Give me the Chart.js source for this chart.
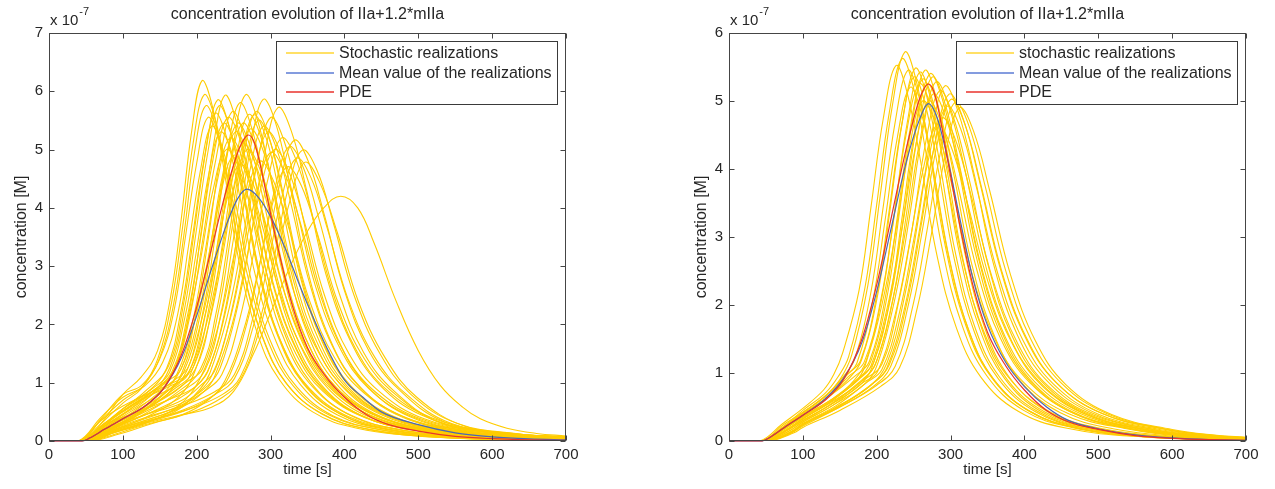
<!DOCTYPE html>
<html>
<head>
<meta charset="utf-8">
<title>concentration evolution of IIa+1.2*mIIa</title>
<script src="https://cdn.jsdelivr.net/npm/chart.js@4.4.1/dist/chart.umd.min.js"></script>
<style>
  body { margin: 0; background: #fff; width: 1275px; height: 489px; overflow: hidden; position: relative; }
  .panel { position: absolute; top: 0; height: 489px; }
</style>
</head>
<body>
<div class="panel" style="left:0;width:637px"><canvas id="left" width="637" height="489"></canvas></div>
<div class="panel" style="left:637px;width:638px"><canvas id="right" width="638" height="489"></canvas></div>
<script>
// all concentrations are in units of 1e-7 M, times in seconds: [t, c]
const timeTicks = [0, 100, 200, 300, 400, 500, 600, 700];

const pde = [[0,0],[45,0],[55,0.05],[75,0.2],[100,0.38],[130,0.6],[155,0.9],[180,1.5],[200,2.3],[220,3.3],[240,4.3],[257,5.0],[264,5.18],[270,5.25],[277,5.15],[284,4.85],[295,4.2],[312,3.2],[330,2.3],[350,1.6],[375,1.1],[400,0.75],[430,0.45],[460,0.28],[500,0.17],[550,0.08],[600,0.04],[650,0.02],[700,0.01]];

const meanLeft = [[0,0],[45,0],[55,0.05],[75,0.2],[100,0.38],[130,0.6],[155,0.9],[180,1.45],[200,2.15],[220,2.95],[240,3.7],[255,4.15],[268,4.32],[282,4.2],[300,3.85],[320,3.3],[340,2.65],[360,2.05],[380,1.5],[400,1.05],[425,0.75],[450,0.5],[500,0.28],[550,0.14],[600,0.07],[650,0.035],[700,0.02]];

const meanRight = [[0,0],[45,0],[55,0.05],[75,0.2],[100,0.38],[130,0.62],[155,0.92],[180,1.45],[200,2.2],[220,3.15],[240,4.1],[257,4.7],[270,4.96],[282,4.75],[297,4.1],[313,3.25],[330,2.4],[350,1.7],[375,1.15],[400,0.8],[430,0.5],[460,0.3],[500,0.18],[550,0.09],[600,0.045],[650,0.02],[700,0.01]];

const runsLeft = [
  [[0,0],[40,0],[70,0.3],[100,0.8],[125,1.1],[147,1.55],[165,2.5],[179,3.8],[193,5.3],[207,6.18],[221,5.75],[237,4.65],[257,3.1],[282,1.85],[312,1.05],[357,0.5],[417,0.22],[520,0.07],[700,0.01]],
  [[0,0],[45,0],[75,0.35],[100,0.65],[125,0.9],[147,1.4],[166,2.38],[181,3.68],[195,5.1],[210,5.94],[225,5.52],[242,4.46],[262,2.97],[289,1.78],[320,1.01],[368,0.48],[430,0.21],[530,0.07],[700,0.01]],
  [[0,0],[42,0],[70,0.2],[100,0.55],[130,0.8],[159,1.24],[179,2.25],[194,3.48],[210,4.83],[225,5.62],[240,5.23],[258,4.22],[280,2.81],[308,1.69],[341,0.96],[390,0.45],[456,0.2],[560,0.06],[700,0.015]],
  [[0,0],[45,0],[75,0.25],[100,0.45],[135,0.75],[164,1.27],[184,2.3],[199,3.57],[215,4.95],[230,5.75],[245,5.35],[263,4.31],[285,2.88],[313,1.73],[346,0.98],[395,0.46],[461,0.2],[560,0.065],[700,0.015]],
  [[0,0],[48,0],[80,0.3],[110,0.55],[145,0.85],[172,1.3],[192,2.37],[207,3.68],[223,5.1],[238,5.93],[253,5.51],[271,4.45],[293,2.97],[321,1.78],[354,1.01],[403,0.47],[469,0.21],[570,0.065],[700,0.015]],
  [[0,0],[50,0],[80,0.2],[110,0.4],[140,0.7],[170,1.22],[192,2.22],[208,3.44],[225,4.77],[242,5.55],[259,5.16],[278,4.16],[302,2.78],[332,1.67],[368,0.94],[422,0.44],[494,0.19],[600,0.055],[700,0.02]],
  [[0,0],[44,0],[75,0.3],[110,0.6],[150,0.95],[179,1.24],[200,2.26],[216,3.5],[232,4.86],[248,5.65],[264,5.25],[283,4.24],[306,2.83],[334,1.7],[369,0.96],[421,0.45],[490,0.2],[600,0.05],[700,0.018]],
  [[0,0],[52,0],[85,0.2],[120,0.45],[160,0.85],[183,1.2],[205,2.18],[221,3.38],[238,4.69],[255,5.45],[272,5.07],[291,4.09],[315,2.73],[345,1.64],[381,0.93],[435,0.44],[507,0.19],[610,0.05],[700,0.02]],
  [[0,0],[46,0],[80,0.25],[120,0.55],[165,1.0],[189,1.28],[210,2.32],[226,3.6],[242,4.99],[258,5.8],[274,5.39],[293,4.35],[316,2.9],[344,1.74],[379,0.99],[431,0.46],[500,0.2],[600,0.055],[700,0.018]],
  [[0,0],[50,0],[85,0.3],[125,0.55],[170,0.95],[197,1.31],[218,2.38],[234,3.68],[250,5.11],[266,5.94],[282,5.52],[301,4.46],[324,2.97],[352,1.78],[387,1.01],[439,0.48],[508,0.21],[610,0.06],[700,0.02]],
  [[0,0],[55,0],[90,0.2],[130,0.4],[175,0.75],[197,1.18],[219,2.14],[237,3.32],[254,4.6],[272,5.35],[290,4.98],[310,4.01],[335,2.68],[366,1.61],[403,0.91],[460,0.43],[535,0.19],[630,0.06],[700,0.03]],
  [[0,0],[47,0],[80,0.2],[120,0.4],[170,0.8],[205,1.23],[227,2.24],[243,3.47],[260,4.81],[277,5.59],[294,5.2],[313,4.19],[337,2.8],[367,1.68],[403,0.95],[457,0.45],[529,0.2],[630,0.06],[700,0.025]],
  [[0,0],[53,0],[90,0.25],[130,0.5],[180,0.85],[211,1.21],[233,2.2],[249,3.41],[266,4.73],[283,5.5],[300,5.12],[319,4.13],[343,2.75],[373,1.65],[409,0.94],[463,0.44],[535,0.19],[640,0.055],[700,0.025]],
  [[0,0],[45,0],[80,0.3],[120,0.5],[170,0.75],[200,0.95],[218,1.29],[240,2.34],[256,3.63],[273,5.04],[290,5.86],[307,5.45],[326,4.4],[350,2.93],[380,1.76],[416,1.0],[470,0.47],[542,0.2],[640,0.06],[700,0.03]],
  [[0,0],[50,0],[90,0.2],[130,0.35],[180,0.6],[205,0.9],[218,1.17],[241,2.12],[260,3.29],[278,4.56],[296,5.3],[314,4.93],[335,3.98],[361,2.65],[394,1.59],[433,0.9],[491,0.42],[569,0.17],[650,0.07],[700,0.04]],
  [[0,0],[48,0],[85,0.25],[130,0.45],[180,0.65],[215,0.95],[232,1.26],[255,2.29],[274,3.55],[292,4.92],[310,5.72],[328,5.32],[349,4.29],[375,2.86],[408,1.72],[447,0.97],[505,0.44],[583,0.17],[650,0.08],[700,0.045]],
  [[0,0],[42,0],[70,0.25],[100,0.5],[140,0.8],[165,0.95],[187,1.12],[209,2.04],[227,3.16],[244,4.39],[262,5.1],[280,4.74],[300,3.83],[325,2.55],[356,1.53],[393,0.87],[450,0.41],[525,0.18],[620,0.055],[700,0.025]],
  [[0,0],[40,0],[70,0.35],[100,0.6],[140,0.85],[172,1.08],[195,1.96],[214,3.04],[232,4.21],[250,4.9],[268,4.56],[289,3.68],[315,2.45],[348,1.47],[387,0.83],[445,0.39],[523,0.17],[620,0.05],[700,0.02]],
  [[0,0],[55,0],[90,0.15],[130,0.3],[175,0.6],[204,1.06],[228,1.92],[247,2.98],[266,4.13],[285,4.8],[304,4.46],[326,3.6],[353,2.4],[386,1.44],[427,0.82],[488,0.36],[569,0.15],[650,0.06],[700,0.035]],
  [[0,0],[50,0],[85,0.15],[125,0.3],[170,0.5],[195,0.75],[219,1.09],[243,1.98],[262,3.07],[281,4.26],[300,4.95],[319,4.6],[341,3.71],[368,2.48],[401,1.49],[442,0.84],[503,0.38],[584,0.16],[650,0.07],[700,0.04]],
  [[0,0],[55,0],[90,0.12],[130,0.28],[180,0.45],[215,0.7],[238,1.03],[263,1.88],[283,2.91],[302,4.04],[322,4.7],[342,4.37],[364,3.53],[392,2.35],[427,1.41],[469,0.8],[532,0.3],[616,0.12],[700,0.05]],
  [[0,0],[47,0],[85,0.2],[130,0.4],[180,0.6],[225,0.85],[251,1.14],[275,2.06],[294,3.2],[313,4.44],[332,5.16],[351,4.8],[373,3.87],[400,2.58],[433,1.55],[474,0.88],[535,0.33],[616,0.14],[700,0.06]],
  [[0,0],[52,0],[90,0.18],[135,0.35],[190,0.55],[235,0.8],[259,1.1],[284,2.0],[304,3.09],[323,4.29],[343,4.99],[363,4.64],[385,3.74],[413,2.5],[448,1.5],[490,0.8],[553,0.3],[637,0.12],[700,0.07]],
  [[0,0],[58,0],[95,0.12],[140,0.3],[195,0.5],[235,0.75],[259,1.05],[285,1.91],[305,2.96],[326,4.11],[346,4.78],[366,4.45],[390,3.59],[419,2.39],[455,1.43],[498,0.75],[564,0.25],[651,0.1],[700,0.06]],
  [[0,0],[55,0],[90,0.15],[130,0.3],[180,0.45],[220,0.58],[250,0.85],[277,1.5],[300,2.2],[325,2.95],[350,3.6],[372,4.0],[395,4.2],[418,4.0],[440,3.4],[470,2.4],[500,1.55],[530,0.95],[560,0.58],[584,0.38],[620,0.22],[660,0.13],[700,0.086]],
  [[0,0],[44,0],[75,0.3],[105,0.6],[140,0.9],[163,1.17],[184,2.12],[200,3.29],[216,4.56],[232,5.3],[248,4.93],[267,3.98],[290,2.65],[318,1.59],[353,0.9],[405,0.42],[475,0.19],[580,0.05],[700,0.012]],
  [[0,0],[48,0],[80,0.22],[120,0.45],[165,0.85],[198,1.23],[220,2.24],[236,3.47],[253,4.82],[270,5.6],[287,5.21],[306,4.2],[330,2.8],[360,1.68],[396,0.95],[450,0.45],[522,0.2],[620,0.06],[700,0.025]],
  [[0,0],[50,0],[88,0.2],[130,0.38],[180,0.62],[210,0.85],[234,1.14],[258,2.08],[277,3.22],[296,4.47],[315,5.2],[334,4.84],[356,3.9],[383,2.6],[416,1.56],[457,0.88],[518,0.4],[599,0.16],[700,0.06]],
  [[0,0],[45,0],[75,0.25],[105,0.5],[140,0.85],[165,1.1],[187,2.0],[205,3.1],[222,4.3],[240,5.0],[258,4.65],[278,3.75],[303,2.5],[334,1.5],[371,0.85],[428,0.4],[503,0.18],[600,0.05],[700,0.02]],
  [[0,0],[40,0],[70,0.4],[100,0.75],[130,0.95],[154,1.35],[174,2.16],[189,3.35],[205,4.64],[220,5.4],[235,5.02],[253,4.05],[275,2.7],[303,1.62],[336,0.92],[385,0.43],[451,0.19],[550,0.055],[700,0.012]],
  [[0,0],[50,0],[88,0.15],[130,0.32],[185,0.55],[225,0.8],[251,1.07],[276,1.94],[296,3.0],[315,4.17],[335,4.85],[355,4.51],[377,3.64],[405,2.43],[440,1.46],[482,0.82],[545,0.3],[629,0.13],[700,0.07]],
  [[0,0],[43,0],[75,0.3],[110,0.6],[160,0.95],[190,1.2],[212,2.18],[228,3.38],[245,4.69],[262,5.45],[279,5.07],[298,4.09],[322,2.73],[352,1.64],[388,0.93],[442,0.44],[514,0.19],[620,0.05],[700,0.02]],
  [[0,0],[52,0],[88,0.22],[130,0.45],[180,0.7],[205,0.95],[225,1.22],[247,2.22],[265,3.44],[282,4.77],[300,5.55],[318,5.16],[338,4.16],[363,2.78],[394,1.67],[431,0.94],[488,0.42],[563,0.18],[650,0.07],[700,0.04]],
  [[0,0],[50,0],[80,0.2],[110,0.4],[145,0.7],[173,1.14],[195,2.08],[211,3.22],[228,4.47],[245,5.2],[262,4.84],[281,3.9],[305,2.6],[335,1.56],[371,0.88],[425,0.42],[497,0.18],[600,0.05],[700,0.02]],
  [[0,0],[42,0],[72,0.4],[100,0.8],[125,0.95],[149,1.38],[169,2.22],[184,3.44],[200,4.77],[215,5.55],[230,5.16],[248,4.16],[270,2.78],[298,1.67],[331,0.94],[380,0.44],[446,0.2],[550,0.05],[700,0.012]],
  [[0,0],[46,0],[76,0.3],[100,0.55],[130,0.85],[162,1.29],[182,2.34],[197,3.63],[213,5.03],[228,5.85],[243,5.44],[261,4.39],[283,2.93],[311,1.76],[344,0.99],[393,0.47],[459,0.2],[560,0.06],[700,0.015]],
  [[0,0],[50,0],[85,0.2],[120,0.45],[160,0.8],[180,1.17],[202,2.12],[218,3.29],[235,4.56],[252,5.3],[269,4.93],[288,3.98],[312,2.65],[342,1.59],[378,0.9],[432,0.42],[504,0.19],[610,0.05],[700,0.02]],
  [[0,0],[45,0],[75,0.22],[110,0.42],[150,0.7],[175,0.9],[190,1.1],[213,2.0],[232,3.1],[250,4.3],[268,5.0],[286,4.65],[307,3.75],[333,2.5],[366,1.5],[405,0.85],[463,0.4],[541,0.17],[630,0.06],[700,0.03]],
  [[0,0],[48,0],[82,0.25],[120,0.48],[165,0.8],[185,1.0],[208,1.24],[230,2.26],[246,3.5],[263,4.86],[280,5.65],[297,5.25],[316,4.24],[340,2.83],[370,1.7],[406,0.96],[460,0.45],[532,0.2],[630,0.06],[700,0.025]],
  [[0,0],[44,0],[75,0.28],[105,0.55],[140,0.85],[167,1.2],[188,2.18],[204,3.38],[220,4.69],[236,5.45],[252,5.07],[271,4.09],[294,2.73],[322,1.64],[357,0.93],[409,0.44],[478,0.19],[580,0.055],[700,0.015]],
  [[0,0],[50,0],[88,0.18],[130,0.35],[180,0.58],[210,0.85],[224,1.1],[248,2.0],[267,3.1],[286,4.3],[305,5.0],[324,4.65],[346,3.75],[373,2.5],[406,1.5],[447,0.85],[508,0.38],[589,0.16],[660,0.07],[700,0.04]],
  [[0,0],[46,0],[78,0.25],[110,0.5],[150,0.8],[180,1.05],[203,1.9],[222,2.95],[240,4.09],[258,4.75],[276,4.42],[297,3.56],[323,2.38],[356,1.43],[395,0.81],[453,0.38],[531,0.17],[620,0.05],[700,0.02]],
  [[0,0],[42,0],[70,0.35],[100,0.7],[128,0.95],[149,1.4],[168,2.3],[183,3.57],[197,4.95],[212,5.75],[227,5.35],[244,4.31],[264,2.88],[291,1.73],[322,0.98],[370,0.46],[432,0.2],[530,0.06],[700,0.01]],
  [[0,0],[52,0],[90,0.16],[135,0.33],[190,0.55],[225,0.8],[244,1.11],[268,2.02],[287,3.13],[306,4.34],[325,5.05],[344,4.7],[366,3.79],[393,2.53],[426,1.52],[467,0.86],[528,0.33],[609,0.14],[700,0.06]],
  [[0,0],[50,0],[85,0.22],[125,0.42],[175,0.72],[200,0.95],[215,1.19],[238,2.16],[255,3.35],[272,4.64],[290,5.4],[308,5.02],[328,4.05],[353,2.7],[384,1.62],[421,0.92],[478,0.43],[553,0.19],[640,0.06],[700,0.03]]
];

const runsRight = [
  [[0,0],[45,0],[75,0.2],[100,0.42],[130,0.65],[150,0.9],[166,1.26],[188,2.29],[204,3.55],[221,4.92],[238,5.72],[253,5.32],[271,4.29],[293,2.86],[320,1.72],[353,0.97],[403,0.46],[468,0.2],[560,0.07],[700,0.015]],
  [[0,0],[45,0],[75,0.22],[100,0.45],[130,0.7],[148,0.95],[162,1.24],[184,2.25],[200,3.48],[217,4.83],[234,5.62],[249,5.23],[267,4.22],[289,2.81],[316,1.69],[349,0.96],[399,0.45],[464,0.2],[560,0.065],[700,0.015]],
  [[0,0],[42,0],[72,0.25],[100,0.48],[128,0.75],[142,0.98],[154,1.3],[176,2.21],[192,3.42],[209,4.75],[226,5.52],[241,5.13],[259,4.14],[281,2.76],[308,1.66],[341,0.94],[391,0.44],[456,0.19],[560,0.06],[700,0.012]],
  [[0,0],[46,0],[78,0.2],[100,0.38],[135,0.65],[165,0.95],[180,1.21],[202,2.19],[218,3.4],[235,4.71],[252,5.48],[267,5.1],[285,4.11],[307,2.74],[334,1.64],[367,0.93],[417,0.44],[482,0.19],[580,0.06],[700,0.015]],
  [[0,0],[48,0],[80,0.18],[100,0.33],[140,0.6],[170,0.9],[186,1.19],[208,2.17],[224,3.36],[241,4.66],[258,5.42],[273,5.04],[291,4.07],[313,2.71],[340,1.63],[373,0.92],[423,0.43],[488,0.19],[580,0.065],[700,0.018]],
  [[0,0],[47,0],[78,0.2],[100,0.36],[140,0.62],[175,0.9],[193,1.2],[215,2.18],[231,3.38],[248,4.69],[265,5.45],[280,5.07],[298,4.09],[320,2.73],[347,1.64],[380,0.93],[430,0.44],[495,0.19],[590,0.065],[700,0.02]],
  [[0,0],[50,0],[80,0.17],[100,0.3],[140,0.55],[180,0.85],[197,1.19],[220,2.16],[237,3.35],[254,4.64],[272,5.4],[289,5.02],[310,4.05],[335,2.7],[366,1.62],[404,0.92],[462,0.43],[537,0.19],[620,0.07],[700,0.025]],
  [[0,0],[44,0],[75,0.22],[100,0.4],[135,0.65],[170,0.95],[190,1.17],[212,2.13],[228,3.3],[245,4.58],[262,5.32],[277,4.95],[295,3.99],[317,2.66],[344,1.6],[377,0.9],[427,0.43],[492,0.19],[590,0.06],[700,0.02]],
  [[0,0],[46,0],[78,0.2],[100,0.36],[140,0.62],[175,0.92],[196,1.16],[218,2.1],[234,3.26],[251,4.52],[268,5.25],[284,4.88],[304,3.94],[328,2.63],[358,1.58],[394,0.89],[448,0.42],[520,0.18],[610,0.065],[700,0.025]],
  [[0,0],[50,0],[82,0.15],[100,0.28],[140,0.52],[185,0.85],[202,1.16],[225,2.11],[244,3.27],[262,4.54],[280,5.28],[298,4.91],[320,3.96],[346,2.64],[378,1.58],[418,0.9],[478,0.42],[556,0.18],[630,0.07],[700,0.03]],
  [[0,0],[52,0],[85,0.14],[100,0.25],[145,0.5],[190,0.8],[214,1.15],[237,2.09],[256,3.24],[274,4.49],[292,5.22],[310,4.85],[332,3.92],[358,2.61],[390,1.57],[430,0.89],[490,0.42],[568,0.18],[640,0.08],[700,0.04]],
  [[0,0],[54,0],[85,0.12],[100,0.22],[150,0.5],[195,0.8],[219,1.1],[243,2.01],[262,3.11],[281,4.32],[300,5.02],[319,4.67],[341,3.77],[369,2.51],[403,1.51],[444,0.85],[506,0.4],[588,0.18],[650,0.08],[700,0.045]],
  [[0,0],[52,0],[85,0.13],[100,0.24],[150,0.5],[200,0.82],[225,1.1],[249,1.99],[268,3.09],[287,4.28],[306,4.98],[325,4.63],[347,3.74],[375,2.49],[409,1.49],[450,0.85],[512,0.4],[594,0.17],[660,0.08],[700,0.05]],
  [[0,0],[55,0],[88,0.12],[100,0.2],[150,0.45],[205,0.8],[231,1.08],[255,1.96],[274,3.04],[293,4.21],[312,4.9],[331,4.56],[353,3.68],[381,2.45],[415,1.47],[456,0.83],[518,0.39],[600,0.17],[660,0.085],[700,0.055]],
  [[0,0],[48,0],[80,0.17],[100,0.3],[140,0.55],[180,0.88],[207,1.13],[230,2.06],[249,3.19],[267,4.43],[285,5.15],[303,4.79],[325,3.86],[351,2.58],[383,1.55],[423,0.88],[483,0.41],[561,0.18],[640,0.07],[700,0.035]],
  [[0,0],[44,0],[75,0.25],[100,0.42],[135,0.7],[160,0.98],[178,1.18],[200,2.14],[216,3.32],[233,4.6],[250,5.35],[265,4.98],[283,4.01],[305,2.68],[332,1.61],[365,0.91],[415,0.43],[480,0.19],[580,0.06],[700,0.015]],
  [[0,0],[50,0],[80,0.16],[100,0.3],[140,0.56],[180,0.9],[198,1.12],[221,2.04],[240,3.16],[258,4.39],[276,5.1],[294,4.74],[316,3.83],[342,2.55],[374,1.53],[414,0.87],[474,0.41],[552,0.18],[630,0.07],[700,0.03]],
  [[0,0],[52,0],[84,0.14],[100,0.26],[145,0.52],[185,0.85],[207,1.05],[231,1.9],[250,2.95],[269,4.09],[288,4.75],[307,4.42],[329,3.56],[357,2.38],[391,1.43],[432,0.81],[494,0.38],[576,0.17],[650,0.07],[700,0.04]],
  [[0,0],[46,0],[77,0.2],[100,0.38],[135,0.65],[158,0.95],[173,1.14],[195,2.08],[211,3.22],[228,4.47],[245,5.2],[260,4.84],[278,3.9],[300,2.6],[327,1.56],[360,0.88],[410,0.42],[475,0.18],[570,0.06],[700,0.015]],
  [[0,0],[53,0],[85,0.13],[100,0.24],[150,0.52],[195,0.85],[214,1.08],[238,1.97],[257,3.05],[276,4.23],[295,4.92],[314,4.58],[336,3.69],[364,2.46],[398,1.48],[439,0.84],[501,0.39],[583,0.17],[650,0.075],[700,0.045]],
  [[0,0],[48,0],[80,0.18],[100,0.32],[140,0.6],[175,0.9],[192,1.1],[215,2.0],[234,3.1],[252,4.3],[270,5.0],[288,4.65],[310,3.75],[336,2.5],[368,1.5],[408,0.85],[468,0.4],[546,0.18],[630,0.065],[700,0.028]],
  [[0,0],[45,0],[76,0.21],[100,0.4],[135,0.66],[162,0.95],[183,1.16],[206,2.1],[223,3.26],[240,4.52],[258,5.25],[274,4.88],[293,3.94],[317,2.63],[346,1.58],[382,0.89],[436,0.42],[506,0.18],[600,0.06],[700,0.02]],
  [[0,0],[50,0],[82,0.15],[100,0.28],[140,0.52],[180,0.85],[201,1.02],[225,1.86],[244,2.88],[263,4.0],[282,4.65],[301,4.32],[323,3.49],[351,2.33],[385,1.4],[426,0.79],[488,0.37],[570,0.16],[650,0.06],[700,0.035]],
  [[0,0],[45,0],[76,0.22],[100,0.42],[132,0.68],[155,0.95],[170,1.2],[192,2.18],[208,3.38],[225,4.69],[242,5.45],[257,5.07],[275,4.09],[297,2.73],[324,1.64],[357,0.93],[407,0.44],[472,0.19],[570,0.06],[700,0.015]],
  [[0,0],[48,0],[80,0.18],[100,0.33],[140,0.58],[180,0.88],[200,1.18],[223,2.14],[240,3.32],[257,4.6],[275,5.35],[292,4.98],[313,4.01],[338,2.68],[369,1.61],[407,0.91],[465,0.43],[540,0.19],[620,0.07],[700,0.028]],
  [[0,0],[52,0],[85,0.13],[100,0.24],[148,0.5],[192,0.82],[217,1.12],[241,2.04],[260,3.16],[279,4.39],[298,5.1],[317,4.74],[339,3.83],[367,2.55],[401,1.53],[442,0.87],[504,0.41],[586,0.18],[650,0.08],[700,0.045]],
  [[0,0],[47,0],[78,0.19],[100,0.35],[140,0.6],[172,0.88],[184,1.1],[207,2.0],[226,3.1],[244,4.3],[262,5.0],[280,4.65],[302,3.75],[328,2.5],[360,1.5],[400,0.85],[460,0.4],[538,0.18],[620,0.06],[700,0.025]]
];

const titleText = 'concentration evolution of IIa+1.2*mIIa';
const textColor = '#262626';
const runColor = 'rgb(255, 204, 0)';
const meanColor = '#4a67b5';
const pdeColor = '#e8322c';

Chart.defaults.font.family = '"Liberation Sans", Arial, Helvetica, sans-serif';
Chart.defaults.color = textColor;

const toPoints = pairs => pairs.map(([x, y]) => ({ x, y }));

// MATLAB style box with inward ticks on all four sides plus the x 10^-7 multiplier
const axesBox = {
  id: 'axesBox',
  afterDatasetsDraw(chart) {
    const { ctx, chartArea: a, scales: { x, y } } = chart;
    const L = Math.round(a.left) + 0.5, R = Math.round(a.right) - 0.5;
    const T = Math.round(a.top) + 0.5, B = Math.round(a.bottom) - 0.5;
    ctx.save();
    ctx.strokeStyle = '#454545';
    ctx.lineWidth = 1;
    ctx.beginPath();
    x.ticks.forEach(t => {
      const px = Math.round(x.getPixelForValue(t.value)) + 0.5;
      ctx.moveTo(px, B); ctx.lineTo(px, B - 5);
      ctx.moveTo(px, T); ctx.lineTo(px, T + 5);
    });
    y.ticks.forEach(t => {
      const py = Math.round(y.getPixelForValue(t.value)) + 0.5;
      ctx.moveTo(L, py); ctx.lineTo(L + 5, py);
      ctx.moveTo(R, py); ctx.lineTo(R - 5, py);
    });
    ctx.stroke();
    ctx.strokeRect(L, T, R - L, B - T);

    ctx.fillStyle = textColor;
    ctx.textBaseline = 'middle';
    ctx.textAlign = 'left';
    ctx.font = '15px "Liberation Sans", Arial, sans-serif';
    const base = 'x 10';
    ctx.fillText(base, a.left + 1, 21);
    const w = ctx.measureText(base).width;
    ctx.font = '11px "Liberation Sans", Arial, sans-serif';
    ctx.fillText('-7', a.left + 2 + w, 12);
    ctx.restore();
  }
};

// boxed legend in the upper right corner of the axes
const boxLegend = {
  id: 'boxLegend',
  afterDraw(chart) {
    const { ctx, chartArea: a } = chart;
    const seen = [];
    chart.data.datasets.forEach(ds => {
      if (!seen.find(e => e.text === ds.label)) seen.push({ text: ds.label, color: ds.legendColor || ds.borderColor, rank: ds.legendRank });
    });
    seen.sort((p, q) => p.rank - q.rank);
    ctx.save();
    ctx.font = '16px "Liberation Sans", Arial, sans-serif';
    const textW = Math.max(...seen.map(e => ctx.measureText(e.text).width));
    const w = Math.round(63 + textW + 5), h = 63;
    const left = Math.round(a.right) - 9 - w, top = Math.round(a.top) + 8;
    ctx.fillStyle = '#fff';
    ctx.fillRect(left, top, w, h);
    ctx.strokeStyle = '#3a3a3a';
    ctx.lineWidth = 1;
    ctx.strokeRect(left + 0.5, top + 0.5, w, h);
    seen.forEach((e, i) => {
      const yy = top + 12 + Math.round(i * 19.5);
      ctx.strokeStyle = e.color;
      ctx.lineWidth = 1.5;
      ctx.beginPath();
      ctx.moveTo(left + 10, yy);
      ctx.lineTo(left + 58, yy);
      ctx.stroke();
      ctx.fillStyle = textColor;
      ctx.textBaseline = 'middle';
      ctx.fillText(e.text, left + 63, yy + 1);
    });
    ctx.restore();
  }
};

function makePanel(canvasId, runs, mean, yMax, runLabel, padLeft, padRight) {
  const smooth = { pointRadius: 0, fill: false, cubicInterpolationMode: 'monotone', clip: 1 };
  const spline = { pointRadius: 0, fill: false, tension: 0.4 };
  const datasets = [
    { ...smooth, label: 'PDE', data: toPoints(pde), borderColor: pdeColor, borderWidth: 1.2, legendRank: 3 },
    { ...smooth, label: 'Mean value of the realizations', data: toPoints(mean), borderColor: meanColor, borderWidth: 1.2, legendRank: 2, legendColor: '#5b7bd5' }
  ];
  runs.forEach(r => datasets.push({ ...spline, label: runLabel, data: toPoints(r), borderColor: runColor, borderWidth: 1.1, legendRank: 1, legendColor: '#ffd633' }));

  return new Chart(document.getElementById(canvasId), {
    type: 'line',
    data: { datasets },
    options: {
      responsive: false,
      animation: false,
      events: [],
      layout: { padding: { left: padLeft, right: padRight, top: 0, bottom: 0 } },
      plugins: {
        legend: { display: false },
        tooltip: { enabled: false },
        title: {
          display: true,
          text: titleText,
          fullSize: false,
          color: textColor,
          font: { size: 16, weight: 'normal', lineHeight: 1.2 },
          padding: { top: 5, bottom: 8.8 }
        }
      },
      scales: {
        x: {
          type: 'linear',
          min: 0,
          max: 700,
          afterBuildTicks: s => { s.ticks = timeTicks.map(v => ({ value: v })); },
          ticks: { font: { size: 15 }, padding: 5, maxRotation: 0, color: textColor },
          grid: { display: false, drawTicks: false },
          border: { display: false },
          title: { display: true, text: 'time [s]', font: { size: 15 }, color: textColor, padding: { top: 0, bottom: 10 } },
          afterFit: s => { s.height = 48; }
        },
        y: {
          type: 'linear',
          min: 0,
          max: yMax,
          ticks: { stepSize: 1, font: { size: 15 }, padding: 6, color: textColor },
          grid: { display: false, drawTicks: false },
          border: { display: false },
          title: { display: true, text: 'concentration [M]', font: { size: 16 }, color: textColor, padding: { top: 12, bottom: 0 } },
          afterFit: s => { s.width = 49; }
        }
      }
    },
    plugins: [axesBox, boxLegend]
  });
}

makePanel('left', runsLeft, meanLeft, 7, 'Stochastic realizations', 0, 71);
makePanel('right', runsRight, meanRight, 6, 'stochastic realizations', 43, 29);
</script>
</body>
</html>
